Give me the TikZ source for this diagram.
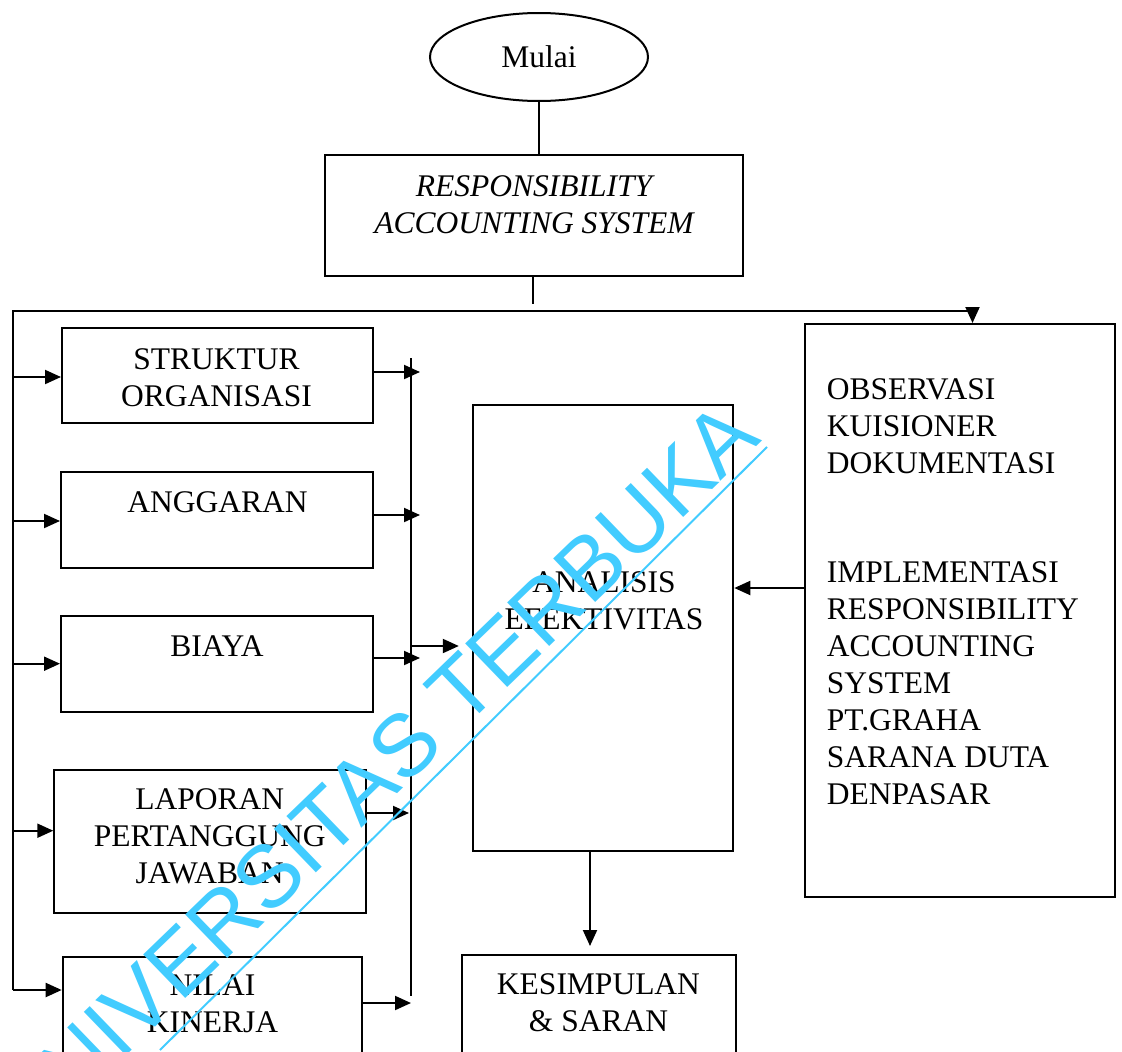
\documentclass[tikz,border=0pt]{standalone}
\usepackage{fontspec}
\setmainfont{Liberation Serif}
\newfontfamily\wmfont{Liberation Sans}
\usetikzlibrary{arrows.meta,shapes.geometric,calc}
\definecolor{wmcyan}{RGB}{66,204,255}
\begin{document}
\begin{tikzpicture}[x=1pt,y=-1pt,
  box/.style={draw, rectangle, line width=2pt, inner sep=0pt},
  txt/.style={font=\fontsize{31.5}{37}\selectfont, align=center, inner sep=0pt},
  ln/.style={line width=2pt},
  arr/.style={line width=2pt, -{Triangle[length=16pt,width=14pt]}}]
\useasboundingbox (0,0) rectangle (1122,1052);
\clip (0,0) rectangle (1122,1052);
\fill[white] (0,0) rectangle (1122,1052);

% start and RAS
\node[draw, ellipse, line width=2pt, minimum width=218, minimum height=88, inner sep=0pt,
      font=\fontsize{31.5}{37}\selectfont] (mulai) at (539,57) {Mulai};
\node[box, minimum width=418, minimum height=121] (ras) at (534,215.5) {};
\node[txt, font=\fontsize{31.5}{37}\selectfont\itshape] (rast) at (534,205) {RESPONSIBILITY\\ACCOUNTING SYSTEM};

% left column boxes
\node[box, minimum width=311, minimum height=95] (str) at (217.5,375.5) {};
\node[txt] (strt) at (216.5,377.7) {STRUKTUR\\ORGANISASI};
\node[box, minimum width=312, minimum height=96] (ang) at (217,520) {};
\node[txt] (angt) at (217.5,502) {ANGGARAN};
\node[box, minimum width=312, minimum height=96] (bia) at (217,663.5) {};
\node[txt] (biat) at (217,646) {BIAYA};
\node[box, minimum width=311.4, minimum height=143.3] (lap) at (210,841.7) {};
\node[txt] (lapt) at (209.7,836) {LAPORAN\\PERTANGGUNG\\JAWABAN};
\node[box, minimum width=299, minimum height=113] (nil) at (212.2,1013) {};
\node[txt] (nilt) at (212.5,1004) {NILAI\\KINERJA};

% analysis, conclusion, observation
\node[box, minimum width=260, minimum height=446] (ana) at (603.3,628) {};
\node[txt] (anat) at (604,600.7) {ANALISIS\\EFEKTIVITAS};
\node[box, minimum width=274.3, minimum height=115] (kes) at (598.8,1012.5) {};
\node[txt] (kest) at (598.5,1003) {KESIMPULAN\\\& SARAN};
\node[box, minimum width=310, minimum height=573] (obs) at (960,610.5) {};
\node[txt, align=left, anchor=west] (obst1) at (826.7,426.4) {OBSERVASI\\KUISIONER\\DOKUMENTASI};
\node[txt, align=left, anchor=west] (obst2) at (826.7,683) {IMPLEMENTASI\\RESPONSIBILITY\\ACCOUNTING\\SYSTEM\\PT.GRAHA\\SARANA DUTA\\DENPASAR};

% coordinates of the distribution lines
\coordinate (stub) at (533,304);
\coordinate (tl) at (13,311);
\coordinate (tr) at (972.5,311);
\coordinate (lb) at (13,990);
\coordinate (bt) at (411,358);
\coordinate (bb) at (411,996);
\coordinate (ba) at (411,646);
\coordinate (oa) at (733,588);
\coordinate (r1) at (420,372);
\coordinate (r2) at (420,515);
\coordinate (r3) at (420,658);
\coordinate (r4) at (409,813);
\coordinate (r5) at (411,1003);
\coordinate (l1) at (13,377);
\coordinate (l2) at (13,521);
\coordinate (l3) at (13,663.7);
\coordinate (l4) at (13,830.7);
\coordinate (l5) at (13,990);

% connectors
\draw[ln] (mulai.south) -- (ras.north -| mulai.south);
\draw[ln] (ras.south -| stub) -- (stub);
\draw[arr] (lb) -- (tl) -- (tr) -- (obs.north -| tr);
\draw[arr] (l1) -- (str.west |- l1);
\draw[arr] (l2) -- (ang.west |- l2);
\draw[arr] (l3) -- (bia.west |- l3);
\draw[arr] (l4) -- (lap.west |- l4);
\draw[arr] (l5) -- (nil.west |- l5);
\draw[ln] (bt) -- (bb);
\draw[arr] (str.east |- r1) -- (r1);
\draw[arr] (ang.east |- r2) -- (r2);
\draw[arr] (bia.east |- r3) -- (r3);
\draw[arr] (lap.east |- r4) -- (r4);
\draw[arr] (nil.east |- r5) -- (r5);
\draw[arr, shorten >=13.5pt] (ba) -- (ana.west |- ba);
\draw[arr] (obs.west |- oa) -- (ana.east |- oa);
\draw[arr, shorten >=8pt] (ana.south -| 590,0) -- (kes.north -| 590,0);

% watermark
\node[rotate=44, anchor=base east, text=wmcyan, inner sep=0pt,
      font=\wmfont\fontsize{88}{88}\selectfont] (wm) at (763,441) {UNIVERSITAS TERBUKA};
\draw[wmcyan, line width=2pt] (767,447) -- (160,1050);
\end{tikzpicture}
\end{document}
